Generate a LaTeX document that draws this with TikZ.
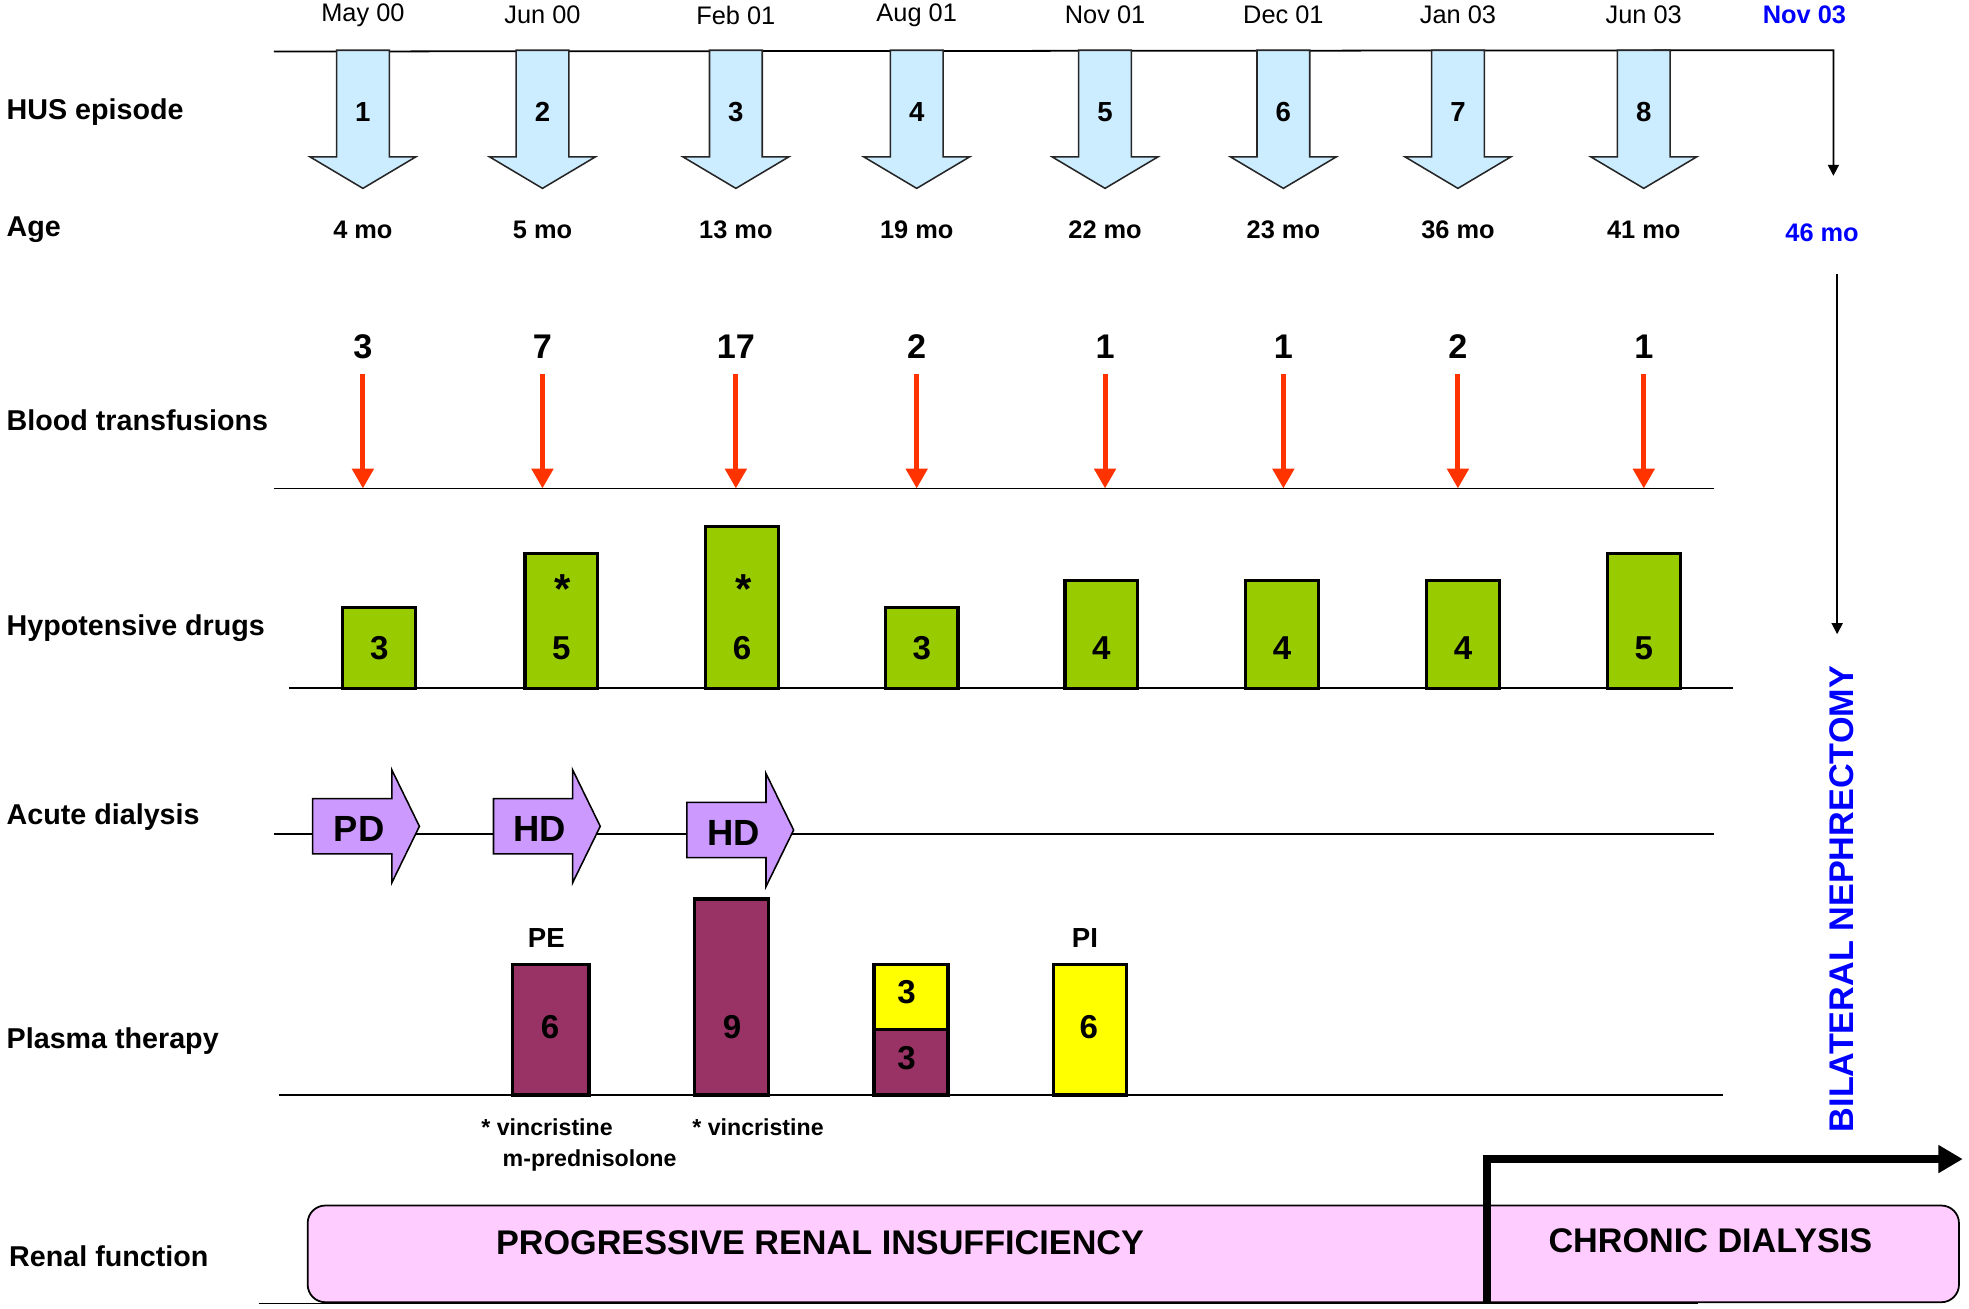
\documentclass[tikz,border=0pt]{standalone}
\usepackage{fontspec}
\setmainfont{Liberation Sans}
\usetikzlibrary{positioning}
\usetikzlibrary{arrows.meta}

\definecolor{husblue}{HTML}{CCECFF}
\definecolor{druggreen}{HTML}{99CC00}
\definecolor{dialpurple}{HTML}{CC99FF}
\definecolor{pemaroon}{HTML}{993366}
\definecolor{piyellow}{HTML}{FFFF00}
\definecolor{renalpink}{HTML}{FFCCFF}
\definecolor{transred}{HTML}{FF3300}
\definecolor{nephblue}{HTML}{0000FF}

\tikzset{
	rowlabel/.style={anchor=west, inner sep=0pt, font=\fontsize{13}{15}\selectfont\bfseries},
	datelab/.style={font=\fontsize{11.5}{13}\selectfont},
	agelab/.style={font=\fontsize{11.5}{13}\selectfont\bfseries},
	husnum/.style={font=\fontsize{12.5}{14}\selectfont\bfseries},
	transnum/.style={font=\fontsize{15.5}{18}\selectfont\bfseries},
	barnum/.style={font=\fontsize{15}{17}\selectfont\bfseries},
	starlab/.style={font=\fontsize{19}{21}\selectfont\bfseries},
	dialtext/.style={font=\fontsize{16.5}{19}\selectfont\bfseries},
	plasmalab/.style={font=\fontsize{12.5}{14}\selectfont\bfseries},
	notelab/.style={anchor=west, inner sep=0pt, font=\fontsize{10.5}{12}\selectfont\bfseries},
	biglab/.style={font=\fontsize{15.5}{18}\selectfont\bfseries},
	bluelab/.style={text=nephblue, font=\fontsize{11.5}{13}\selectfont\bfseries},
	baseline/.style={line width=0.8pt},
	husarrow/.style={draw=black!85, line width=0.7pt, fill=husblue},
	transarrow/.style={draw=transred, line width=2.3pt, -{Triangle[length=9pt,width=9.5pt]}},
	drugbar/.style={draw=black, line width=1.5pt, fill=druggreen},
	dialarrow/.style={draw=black, line width=0.7pt, fill=dialpurple},
	pebar/.style={draw=black, line width=1.5pt, fill=pemaroon},
	pibar/.style={draw=black, line width=1.5pt, fill=piyellow},
	renalbox/.style={draw=black, line width=0.8pt, fill=renalpink, rounded corners=8pt},
	thinarrow/.style={line width=0.8pt, -{Triangle[length=5pt,width=5pt]}},
	chronarrow/.style={line width=3.7pt, -{Triangle[length=11pt,width=12pt]}}
}

\begin{document}
\begin{tikzpicture}[x=0.02cm,y=-0.02cm]
	\useasboundingbox (0,0) rectangle (1568,1042);

	% row labels
	\node[rowlabel] (lhus) at (5,89) {HUS episode};
	\node[rowlabel] (lage) at (5,183) {Age};
	\node[rowlabel] (lblood) at (5,335) {Blood transfusions};
	\node[rowlabel] (ldrugs) at (5,500) {Hypotensive drugs};
	\node[rowlabel] (ldial) at (5,651) {Acute dialysis};
	\node[rowlabel] (lplasma) at (5,829) {Plasma therapy};
	\node[rowlabel] (lrenal) at (7,1000) {Renal function};

	% time line and nephrectomy
	\coordinate (tl) at (218,41);
	\coordinate (tr) at (1460,40);
	\coordinate (td) at (1460,140);
	\draw[thinarrow] (tl) -- (tr) -- (td);
	\node[bluelab] (nov03) at (1437,12) {Nov 03};
	\node[bluelab] (age9) at (1451,185) {46 mo};
	\coordinate (ns) at (1463,218);
	\coordinate (ne) at (1463,505);
	\draw[thinarrow] (ns) -- (ne);
	\node[biglab, text=nephblue, rotate=90] (neph) at (1467,716) {BILATERAL NEPHRECTOMY};

	% baselines
	\draw[baseline] (218,389) -- (1365,389);
	\draw[baseline] (230,548) -- (1380,548);
	\draw[baseline] (218,664) -- (1365,664);
	\draw[baseline] (222,872) -- (1372,872);
	\draw[baseline] (206,1038) -- (1352,1038);

	% episodes, ages, transfusions
	\foreach \x/\dt/\ag/\nt [count=\i] in {289/May 00/4/3, 432/Jun 00/5/7, 586/Feb 01/13/17, 730/Aug 01/19/2, 880/Nov 01/22/1, 1022/Dec 01/23/1, 1161/Jan 03/36/2, 1309/Jun 03/41/1}
	{
		\node[datelab] (date\i) at (\x,12) {\dt};
		\draw[husarrow] ({\x-21},40) -- ({\x+21},40) -- ({\x+21},125) -- ({\x+42},125)
			-- (\x,150) -- ({\x-42},125) -- ({\x-21},125) -- cycle;
		\node[husnum] (ep\i) at (\x,89) {\i};
		\node[agelab] (age\i) at (\x,183) {\ag\ mo};
		\node[transnum] (tr\i) at (\x,276) {\nt};
		\coordinate (trs\i) at (\x,298);
		\coordinate (tre\i) at (\x,389);
		\draw[transarrow] (trs\i) -- (tre\i);
	}

	% hypotensive drugs
	\foreach \x/\nt [count=\i] in {302/3, 447/5, 591/6, 734/3, 877/4, 1021/4, 1165/4, 1309/5}
	{
		\draw[drugbar] ({\x-29},548) rectangle ({\x+29},{548-21.5*\nt});
		\node[barnum] (hd\i) at (\x,516) {\nt};
	}
	\node[starlab] (star2) at (448,469) {*};
	\node[starlab] (star3) at (592,469) {*};

	% acute dialysis
	\foreach \x/\y/\t [count=\i] in {249/658/PD, 393/658/HD, 547/661/HD}
	{
		\draw[dialarrow] (\x,{\y-22}) -- ({\x+63},{\y-22}) -- ({\x+63},{\y-45}) -- ({\x+85},\y)
			-- ({\x+63},{\y+45}) -- ({\x+63},{\y+22}) -- (\x,{\y+22}) -- cycle;
		\node[dialtext] (dial\i) at ({\x+37},{\y+2}) {\t};
	}

	% plasma therapy
	\draw[pebar] (408,872) rectangle (469,768);
	\draw[pebar] (553,872) rectangle (612,716);
	\draw[pebar] (696,872) rectangle (755,820);
	\draw[pibar] (696,820) rectangle (755,768);
	\draw[pibar] (839,872) rectangle (897,768);
	\node[barnum] (pl1) at (438,818) {6};
	\node[barnum] (pl2) at (583,818) {9};
	\node[barnum] (pl3) at (722,843) {3};
	\node[barnum] (pl4) at (722,790) {3};
	\node[barnum] (pl5) at (867,818) {6};
	\node[plasmalab] (pe) at (435,747) {PE};
	\node[plasmalab] (pi) at (864,747) {PI};
	\node[notelab] (note1) at (383,898) {* vincristine};
	\node[notelab] (note2) at (400,924) {m-prednisolone};
	\node[notelab] (note3) at (551,898) {* vincristine};

	% renal function
	\draw[renalbox] (245,960) rectangle (1560,1037);
	\node[biglab] (prog) at (653,990) {PROGRESSIVE RENAL INSUFFICIENCY};
	\node[biglab] (chron) at (1362,988) {CHRONIC DIALYSIS};
	\coordinate (cd0) at (1184,1037);
	\coordinate (cd1) at (1184,923);
	\coordinate (cd2) at (1563,923);
	\draw[chronarrow] (cd0) -- (cd1) -- (cd2);
\end{tikzpicture}
\end{document}
